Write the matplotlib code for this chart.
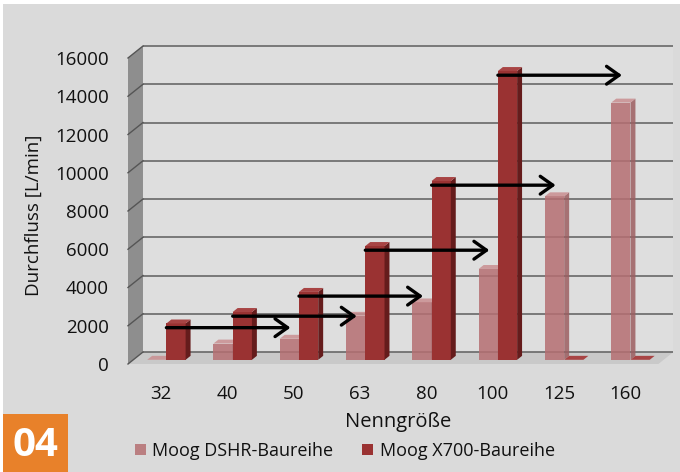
import matplotlib
matplotlib.use("Agg")
import matplotlib.pyplot as plt
from matplotlib.patches import Polygon, Rectangle, Patch
import numpy as np

plt.rcParams['font.family'] = ['Open Sans', 'DejaVu Sans']

# data
sizes = ["32", "40", "50", "63", "80", "100", "125", "160"]
dshr = [0, 850, 1100, 2300, 3000, 4750, 8550, 13450]
x700 = [1900, 2500, 3550, 5950, 9350, 15100, 0, 0]
y_ticks = [0, 2000, 4000, 6000, 8000, 10000, 12000, 14000, 16000]
series_names = ["Moog DSHR-Baureihe", "Moog X700-Baureihe"]

BG = "#dadada"
LIGHT = ("#b56f72", "#9c5e61", "#c98f91")   # front, side, top
DARK = ("#9a3232", "#651c1c", "#a84444")
TXT = "#111111"

fig = plt.figure(figsize=(6.8, 4.72), dpi=100, facecolor="white")
fig.patches.append(Rectangle((3 / 680, 0), 1, 1 - 4 / 472, transform=fig.transFigure,
                             facecolor=BG, edgecolor="none", zorder=-10))

ax = fig.add_axes([128 / 680, 108 / 472, 530.4 / 680, 306 / 472])
ax.set_facecolor("none")
ax.set_xlim(-0.5, 7.5)
ax.set_ylim(0, 16000)
x0, x1 = ax.get_xlim()

# depth of the pseudo 3d box in data units
ddx, ddy = 0.226, 627
bar_w = 0.29
f_front, f_depth = 0.35, 0.33
ox, oy = f_front * ddx, f_front * ddy
bdx, bdy = f_depth * ddx, f_depth * ddy

# back wall, side wall, floor
ax.add_patch(Polygon([(x0 + ddx, ddy), (x1 + ddx, ddy), (x1 + ddx, 16000 + ddy),
                      (x0 + ddx, 16000 + ddy)], closed=True, facecolor="#dedede",
                     edgecolor="none", zorder=0, clip_on=False))
ax.add_patch(Polygon([(x0, 0), (x0, 16000), (x0 + ddx, 16000 + ddy), (x0 + ddx, ddy)],
                     closed=True, facecolor="#8e8e8e", edgecolor="none", zorder=1,
                     clip_on=False))
ax.add_patch(Polygon([(x0, 0), (x1, 0), (x1 + ddx, ddy), (x0 + ddx, ddy)], closed=True,
                     facecolor="#c9c9c9", edgecolor="none", zorder=1, clip_on=False))
for v in y_ticks:
    ax.plot([x0 + ddx, x1 + ddx], [v + ddy, v + ddy], color="#686868", lw=1.2,
            zorder=2, clip_on=False, solid_capstyle="butt")
    ax.plot([x0, x0 + ddx], [v, v + ddy], color="#555555", lw=1.0, zorder=2,
            clip_on=False)


def box(xl, value, colors, alpha=1.0):
    front, side, top = colors
    ax.bar(xl + ox, value, bar_w, bottom=oy, align="edge", color=front,
           alpha=alpha, zorder=4, linewidth=0)
    xr = xl + ox + bar_w
    yt = value + oy
    ax.add_patch(Polygon([(xr, oy), (xr, yt), (xr + bdx, yt + bdy), (xr + bdx, oy + bdy)],
                         closed=True, facecolor=side, alpha=alpha, edgecolor="none",
                         zorder=4))
    ax.add_patch(Polygon([(xl + ox, yt), (xr, yt), (xr + bdx, yt + bdy),
                          (xl + ox + bdx, yt + bdy)], closed=True, facecolor=top,
                         alpha=alpha, edgecolor="none", zorder=4))


idx = np.arange(len(sizes))
for i in idx:
    box(i - bar_w, dshr[i], LIGHT, alpha=0.85)
    box(i, x700[i], DARK)

# arrows: X700 size n reaches the flow of DSHR size n+2
for i in idx[:-2]:
    if x700[i] > 0:
        ax.annotate("", xy=(i + 2 - 0.05, x700[i]), xytext=(i + ox, x700[i]),
                    arrowprops=dict(arrowstyle="->, head_length=0.45, head_width=0.32",
                                    lw=2.4, color="black", shrinkA=0, shrinkB=0,
                                    mutation_scale=20),
                    zorder=10)

for s in ax.spines.values():
    s.set_visible(False)
ax.set_yticks(y_ticks)
ax.set_yticklabels([str(v) for v in y_ticks])
ax.set_xticks(idx)
ax.set_xticklabels(sizes)
ax.tick_params(axis="both", length=0, labelsize=13.5, colors=TXT)
ax.tick_params(axis="y", pad=14)
ax.tick_params(axis="x", pad=15)

ax.set_xlabel("Nenngröße", fontsize=14.5, color=TXT)
ax.xaxis.label.set_va("center")
ax.xaxis.set_label_coords(0.509, -58 / 306)
ax.set_ylabel("Durchfluss [L/min]", fontsize=13.5, color=TXT)
ax.yaxis.label.set_va("center")
ax.yaxis.set_label_coords(-94 / 530.4, 149 / 306)

handles = [Patch(facecolor=LIGHT[0], alpha=0.85), Patch(facecolor=DARK[0])]
fig.legend(handles, series_names, loc="center", bbox_to_anchor=(345 / 680, 21 / 472),
           ncol=2, frameon=False, fontsize=13, handlelength=0.6, handleheight=0.6,
           handletextpad=0.35, columnspacing=1.6, labelcolor=TXT)

# figure number badge
fig.patches.append(Rectangle((3 / 680, 0), 65 / 680, 58 / 472, transform=fig.transFigure,
                             facecolor="#e8812a", edgecolor="none", zorder=5))
fig.text(35 / 680, 26 / 472, "04", color="white", fontsize=29, fontweight="bold",
         ha="center", va="center", zorder=6)

fig.savefig("out.png", dpi=100, facecolor=fig.get_facecolor())
